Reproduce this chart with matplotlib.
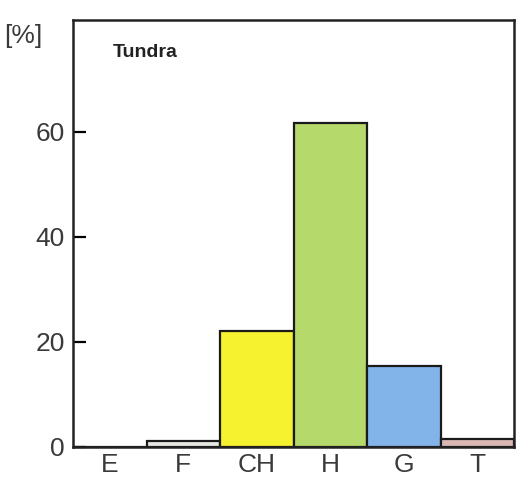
import matplotlib.pyplot as plt

plt.rcParams["font.family"] = ["Liberation Sans", "DejaVu Sans"]

categories = ["E", "F", "CH", "H", "G", "T"]
values = [0, 1.2, 22, 61.7, 15.4, 1.6]
colors = ["white", "#e8e8e4", "#f7f230", "#b6d96c", "#82b4ea", "#dcb8b4"]

fig = plt.figure(figsize=(5.16, 4.91), dpi=100)
ax = fig.add_axes([73/516, 1 - 447/491, 441/516, 427/491])

x = range(len(categories))
ax.bar(x, values, width=1.0, color=colors, edgecolor="#1a1a1a", linewidth=1.6)

ax.set_xlim(-0.5, 5.5)
ax.set_ylim(0, 81.3)
ax.set_yticks([0, 20, 40, 60])
ax.set_xticks(list(x))
ax.set_xticklabels(categories)
ax.tick_params(axis="y", direction="in", length=9, width=1.6, labelsize=19,
               labelcolor="#3a3a3a", pad=6)
ax.tick_params(axis="x", length=0, labelsize=19, labelcolor="#3a3a3a", pad=4)
for s in ax.spines.values():
    s.set_linewidth(1.8)
    s.set_color("#222222")

ax.text(0.09, 0.925, "Tundra", transform=ax.transAxes, fontsize=14,
        fontweight="bold", color="#222222", va="center", ha="left")
fig.text(4/516, 1 - 36/491, "[%]", fontsize=19, color="#3a3a3a",
         va="center", ha="left")

fig.savefig("out.png", dpi=100)
